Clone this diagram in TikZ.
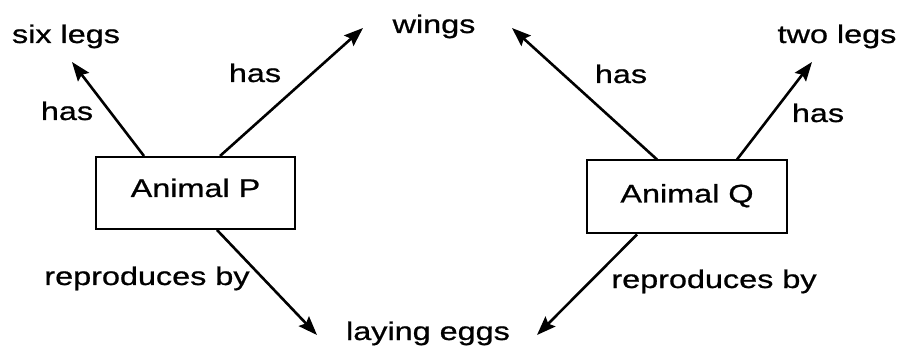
\documentclass[tikz,border=0pt]{standalone}
\usepackage{fontspec}
\setmainfont[FakeStretch=1.27, FakeBold=0.8]{Liberation Sans}
\usetikzlibrary{arrows.meta, positioning, calc}
\tikzset{
    conceptmap/.style={x=1pt, y=-1pt, line width=2.6pt,
        >={Stealth[length=19pt, width=14pt, inset=3pt]},
        font=\fontsize{25.5}{30}\selectfont},
    animal/.style={draw, line width=2pt, inner sep=0pt, minimum width=199pt},
    concept/.style={anchor=base, inner sep=0pt},
    rel/.style={anchor=base, inner sep=0pt},
}

\begin{document}
\begin{tikzpicture}[conceptmap]
        \useasboundingbox (0,0) rectangle (901,352);

        % the two animals
        \node[animal, text height=40pt, text depth=32pt] (animP) at (195.5,193) {Animal P};
        \node[animal, text height=42pt, text depth=31pt, minimum width=200pt] (animQ) at (687,197) {Animal Q};

        % things they have or do
        \node[concept] (sixlegs) at (66,43)  {six legs};
        \node[concept] (wings)   at (434,33) {wings};
        \node[concept] (twolegs) at (837,43) {two legs};
        \node[concept] (eggs)    at (428,340) {laying eggs};

        % arrow tips near the concepts
        \coordinate (sixlegs-in) at (72,62);
        \coordinate (wings-inP)  at (363,28);
        \coordinate (wings-inQ)  at (512,28);
        \coordinate (twolegs-in) at (812,62);
        \coordinate (eggs-inP)   at (317,335);
        \coordinate (eggs-inQ)   at (537,335);

        \draw[->] ([xshift=49pt]animP.north west) -- (sixlegs-in);
        \draw[->] ([xshift=125pt]animP.north west) -- (wings-inP);
        \draw[->] ([xshift=122pt]animP.south west) -- (eggs-inP);
        \draw[->] ([xshift=71pt]animQ.north west) -- (wings-inQ);
        \draw[->] ([xshift=151pt]animQ.north west) -- (twolegs-in);
        \draw[->] ([xshift=51pt]animQ.south west) -- (eggs-inQ);

        % relation labels
        \node[rel] (hasP1) at (67,120)  {has};
        \node[rel] (hasP2) at (255,82)  {has};
        \node[rel] (hasQ1) at (621,83)  {has};
        \node[rel] (hasQ2) at (818,122) {has};
        \node[rel] (repP)  at (147,285) {reproduces by};
        \node[rel] (repQ)  at (714,288) {reproduces by};
    \end{tikzpicture}
\end{document}
